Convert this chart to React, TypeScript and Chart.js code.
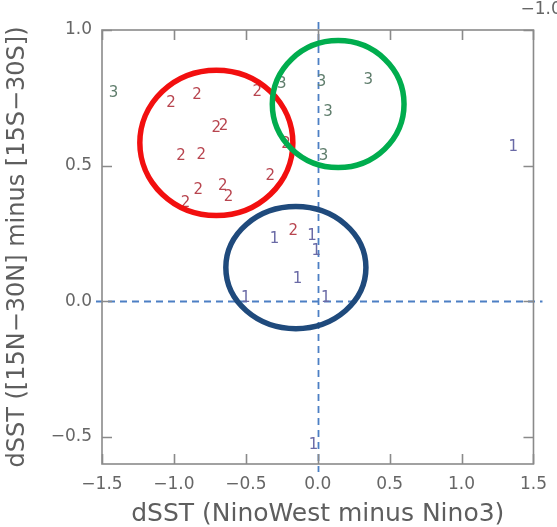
import React, { useEffect, useRef } from "react";
import { Chart, registerables } from "chart.js";

Chart.register(...registerables);

// axis configuration
const xRange = [-1.5, 1.5];
const yRange = [-0.6, 1.0];
const xTicks = [-1.5, -1.0, -0.5, 0, 0.5, 1.0, 1.5];
const yTicks = [-0.5, 0, 0.5, 1.0];
const xTitle = "dSST (NinoWest minus Nino3)";
const yTitle = "dSST ([15N\u221230N] minus [15S\u221230S])";
const strayLabel = "\u22121.0";

// zero reference lines
const refX = [0];
const refY = [0];

// group labels and colours
const groupLabels = ["1", "2", "3"];
const groupColors = ["#6a6aa6", "#b8454f", "#5f7d6c"];

// group 1
const g1X = [-0.30, -0.04, -0.01, -0.14, -0.50, 0.055, -0.03, 1.36];
const g1Y = [0.23, 0.24, 0.185, 0.08, 0.01, 0.01, -0.53, 0.57];
// group 2
const g2X = [-1.02, -0.84, -0.42, -0.705, -0.655, -0.95, -0.81, -0.22, -0.33, -0.83, -0.66, -0.62, -0.92, -0.17];
const g2Y = [0.73, 0.76, 0.77, 0.64, 0.645, 0.535, 0.54, 0.58, 0.46, 0.41, 0.425, 0.385, 0.36, 0.26];
// group 3
const g3X = [-1.42, -0.25, 0.026, 0.352, 0.071, 0.041];
const g3Y = [0.766, 0.802, 0.809, 0.814, 0.699, 0.535];

// highlight ellipses (data units)
const ellipseColors = ["#f20f0f", "#00ad4e", "#1f4a7c"];
const ellipseCX = [-0.705, 0.142, -0.152];
const ellipseCY = [0.584, 0.727, 0.124];
const ellipseRX = [0.532, 0.458, 0.487];
const ellipseRY = [0.268, 0.234, 0.225];

const FONT = "'DejaVu Sans', Verdana, sans-serif";

const overlayPlugin = {
  id: "overlay",
  beforeDatasetsDraw(chart: any) {
    const ctx = chart.ctx;
    const xs = chart.scales.x;
    const ys = chart.scales.y;
    const area = chart.chartArea;
    ctx.save();
    ctx.strokeStyle = "#4c7fc4";
    ctx.lineWidth = 1.8;
    ctx.setLineDash([7, 5]);
    refY.forEach((v) => {
      const py = Math.round(ys.getPixelForValue(v)) + 0.5;
      ctx.beginPath();
      ctx.moveTo(area.left - 6, py);
      ctx.lineTo(area.right + 9, py);
      ctx.stroke();
    });
    refX.forEach((v) => {
      const px = Math.round(xs.getPixelForValue(v)) + 0.5;
      ctx.beginPath();
      ctx.moveTo(px, area.top - 8);
      ctx.lineTo(px, area.bottom + 8);
      ctx.stroke();
    });
    ctx.restore();
  },
  afterDatasetsDraw(chart: any) {
    const ctx = chart.ctx;
    const xs = chart.scales.x;
    const ys = chart.scales.y;
    const area = chart.chartArea;
    ctx.save();
    // labels as text marks
    ctx.font = `15px ${FONT}`;
    ctx.textAlign = "center";
    ctx.textBaseline = "middle";
    chart.data.datasets.forEach((ds: any, i: number) => {
      const meta = chart.getDatasetMeta(i);
      ctx.fillStyle = groupColors[i];
      meta.data.forEach((el: any) => {
        ctx.fillText(groupLabels[i], el.x, el.y);
      });
    });
    // ellipses
    ctx.lineWidth = 5.5;
    ellipseCX.forEach((cx, i) => {
      const px = xs.getPixelForValue(cx);
      const py = ys.getPixelForValue(ellipseCY[i]);
      const rx = Math.abs(xs.getPixelForValue(cx + ellipseRX[i]) - px);
      const ry = Math.abs(ys.getPixelForValue(ellipseCY[i] + ellipseRY[i]) - py);
      ctx.strokeStyle = ellipseColors[i];
      ctx.beginPath();
      ctx.ellipse(px, py, rx, ry, 0, 0, Math.PI * 2);
      ctx.stroke();
    });
    // frame
    ctx.strokeStyle = "#8a8a8a";
    ctx.lineWidth = 1.6;
    ctx.strokeRect(area.left, area.top, area.right - area.left, area.bottom - area.top);
    const tl = 10;
    ctx.beginPath();
    xTicks.forEach((v) => {
      const px = Math.round(xs.getPixelForValue(v)) + 0.5;
      ctx.moveTo(px, area.bottom);
      ctx.lineTo(px, area.bottom - tl);
      ctx.moveTo(px, area.top);
      ctx.lineTo(px, area.top + tl);
    });
    yTicks.forEach((v) => {
      const py = Math.round(ys.getPixelForValue(v)) + 0.5;
      ctx.moveTo(area.left, py);
      ctx.lineTo(area.left + tl, py);
      ctx.moveTo(area.right, py);
      ctx.lineTo(area.right - tl, py);
    });
    ctx.stroke();
    // stray label from neighbouring panel
    ctx.fillStyle = "#666";
    ctx.font = `17px ${FONT}`;
    ctx.textAlign = "left";
    ctx.textBaseline = "middle";
    ctx.fillText(strayLabel, area.right - 13, 10);
    ctx.restore();
  },
};

function fmt(v: number) {
  const s = Math.abs(v).toFixed(1);
  return v < -1e-9 ? "\u2212" + s : s;
}

export default function App() {
  const ref = useRef<HTMLCanvasElement | null>(null);
  useEffect(() => {
    if (!ref.current) return;
    const mk = (xs: number[], ys: number[]) => xs.map((x, i) => ({ x, y: ys[i] }));
    const chart = new Chart(ref.current, {
      type: "scatter",
      data: {
        datasets: [
          { label: "1", data: mk(g1X, g1Y), pointRadius: 0, pointHoverRadius: 0 },
          { label: "2", data: mk(g2X, g2Y), pointRadius: 0, pointHoverRadius: 0 },
          { label: "3", data: mk(g3X, g3Y), pointRadius: 0, pointHoverRadius: 0 },
        ],
      },
      options: {
        responsive: false,
        animation: false,
        events: [],
        layout: { padding: { top: 30, right: 20, left: 0, bottom: 0 } },
        plugins: { legend: { display: false }, tooltip: { enabled: false } },
        scales: {
          x: {
            type: "linear",
            min: xRange[0],
            max: xRange[1],
            grid: { display: false, drawTicks: false },
            border: { display: false },
            afterBuildTicks: (s: any) => {
              s.ticks = xTicks.map((v) => ({ value: v }));
            },
            afterFit: (s: any) => {
              s.height = 63;
            },
            ticks: {
              autoSkip: false,
              maxRotation: 0,
              padding: 10,
              color: "#666",
              font: { family: FONT, size: 17 },
              callback: (v: any) => fmt(Number(v)),
            },
            title: {
              display: true,
              text: xTitle,
              color: "#5e5e5e",
              font: { family: FONT, size: 25, lineHeight: 1 },
              padding: { top: 0, bottom: 0 },
            },
          },
          y: {
            type: "linear",
            min: yRange[0],
            max: yRange[1],
            grid: { display: false, drawTicks: false },
            border: { display: false },
            afterBuildTicks: (s: any) => {
              s.ticks = yTicks.map((v) => ({ value: v }));
            },
            afterFit: (s: any) => {
              s.width = 102;
            },
            ticks: {
              autoSkip: false,
              padding: 10,
              color: "#666",
              font: { family: FONT, size: 17 },
              callback: (v: any) => fmt(Number(v)),
            },
            title: {
              display: true,
              text: yTitle,
              color: "#5e5e5e",
              font: { family: FONT, size: 24, lineHeight: 1 },
              padding: { top: 6, bottom: 0 },
            },
          },
        },
      },
      plugins: [overlayPlugin],
    });
    return () => chart.destroy();
  }, []);
  return (
    <div style={{ position: "fixed", left: 0, top: 0, width: 557, height: 527, background: "#fff" }}>
      <canvas ref={ref} width={557} height={527} />
    </div>
  );
}
